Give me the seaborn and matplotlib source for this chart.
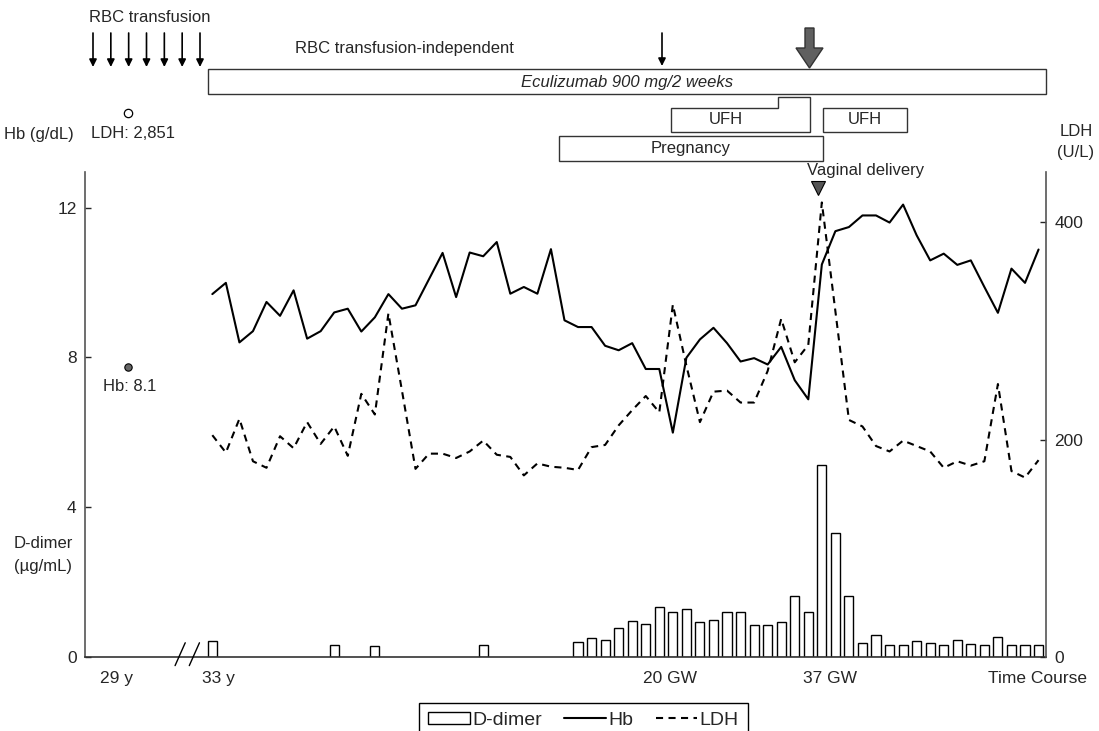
import matplotlib as mpl
mpl.use('Agg')
import matplotlib.pyplot as plt
from matplotlib.patches import Polygon, Patch
from matplotlib.lines import Line2D
import numpy as np
import pandas as pd
import seaborn as sns

sns.set_style('white')
plt.rcParams['font.family'] = ['Liberation Sans', 'DejaVu Sans']
plt.rcParams['font.size'] = 12

#%% data
visit = list(range(62))
hb = [9.69, 9.99, 8.40, 8.70, 9.48, 9.11, 9.79, 8.50, 8.70, 9.20,
      9.30, 8.69, 9.07, 9.69, 9.30, 9.39, 10.09, 10.79, 9.61, 10.80,
      10.70, 11.08, 9.70, 9.88, 9.70, 10.89, 8.99, 8.81, 8.81, 8.31,
      8.19, 8.38, 7.69, 7.69, 5.99, 7.99, 8.48, 8.79, 8.38, 7.89,
      7.98, 7.81, 8.28, 7.39, 6.88, 10.48, 11.37, 11.48, 11.79, 11.79,
      11.60, 12.08, 11.26, 10.59, 10.77, 10.47, 10.59, 9.88, 9.19, 10.37,
      9.99, 10.88]
ldh = [204, 188, 219, 180, 174, 203, 192, 216, 196, 212,
       185, 242, 223, 316, 245, 173, 187, 187, 183, 189,
       199, 186, 184, 167, 178, 175, 174, 172, 193, 195,
       213, 227, 240, 225, 324, 268, 216, 244, 245, 234,
       234, 263, 311, 271, 287, 418, 318, 218, 212, 194,
       189, 199, 194, 189, 174, 180, 176, 180, 251, 171,
       165, 181]
dd_visit = [0, 9, 12, 20] + list(range(27, 62))
ddimer = [0.42, 0.31, 0.29, 0.31,
          0.40, 0.52, 0.46, 0.77, 0.97, 0.89, 1.33, 1.20, 1.29, 0.93,
          1.00, 1.21, 1.19, 0.85, 0.85, 0.94, 1.63, 1.20, 5.13, 3.31,
          1.63, 0.38, 0.58, 0.31, 0.31, 0.42, 0.37, 0.31, 0.45, 0.34,
          0.31, 0.54, 0.31, 0.31, 0.31]

# first visit at 29 y
base_visit = -6.25
base_hb = 7.75
base_hb_label = 'Hb: 8.1'
base_ldh_label = 'LDH: 2,851'

xtick_pos = [-7.1, 0.47, 33.8, 45.6, 60.9]
xtick_lab = ['29 y', '33 y', '20 GW', '37 GW', 'Time Course']

df = pd.DataFrame({'visit': visit, 'Hb': hb, 'LDH': ldh})
dd = pd.DataFrame({'visit': dd_visit, 'D-dimer': ddimer})

#%% figure
W, H = 1099, 731
fx = lambda px: px / W
fy = lambda py: 1 - py / H
LDH_DASH = [3.4, 2.6]

fig = plt.figure(figsize=(W / 100, H / 100), dpi=100)
ax = fig.add_axes([fx(85), fy(657), fx(1046) - fx(85), fy(172) - fy(657)])

sns.barplot(data=dd, x='visit', y='D-dimer', native_scale=True, width=0.67,
            color='white', saturation=1, edgecolor='black', linewidth=1,
            ax=ax, zorder=2)
sns.lineplot(data=df, x='visit', y='Hb', color='black', lw=1.5, ax=ax, zorder=3)
sns.scatterplot(x=[base_visit], y=[base_hb], color='#666666', edgecolor='black',
                s=28, linewidth=0.8, ax=ax, zorder=4)
ax.text(base_visit + 0.15, base_hb - 0.53, base_hb_label, ha='center', va='center')

ax2 = ax.twinx()
sns.lineplot(data=df, x='visit', y='LDH', color='black', lw=1.5, ax=ax2)
ax2.get_lines()[0].set_dashes(LDH_DASH)

ax.set_xlim(-9.4, 61.55)
ax.set_ylim(0, 12.95)
ax2.set_ylim(0, 446)
ax.set_yticks([0, 4, 8, 12])
ax2.set_yticks([0, 200, 400])
ax.set_xticks(xtick_pos, xtick_lab)
ax.set_xlabel('')
ax.set_ylabel('')
ax2.set_ylabel('')
ax.tick_params(axis='x', length=0, pad=10, labelsize=12.5)
ax.tick_params(axis='y', direction='in', length=4, width=1, pad=6, labelsize=12.5, left=True)
ax2.tick_params(axis='y', direction='in', length=4, width=1, pad=6, labelsize=12.5, right=True)

for s in ['top', 'right']:
    ax.spines[s].set_visible(False)
for s in ['top', 'left', 'bottom']:
    ax2.spines[s].set_visible(False)
ax.spines['left'].set_color('#555555')
ax.spines['bottom'].set_color('#333333')
ax2.spines['right'].set_color('#555555')
for s in [ax.spines['left'], ax.spines['bottom'], ax2.spines['right']]:
    s.set_linewidth(1.2)

# axis break
for x0 in [-2.75, -1.7]:
    ax.plot([x0, x0 + 0.75], [-0.23, 0.38], color='black', lw=1, clip_on=False, zorder=5)

#%% annotations above the plot (pixel positions)
def ftext(x, y, s, **kw):
    fig.text(fx(x), fy(y), s, ha='center', va='center', **kw)

def farrow(x, y0, y1):
    ax.annotate('', xy=(fx(x), fy(y1)), xytext=(fx(x), fy(y0)), xycoords='figure fraction',
                arrowprops=dict(arrowstyle='-|>', lw=1.2, color='black', shrinkA=0, shrinkB=0,
                                mutation_scale=11), annotation_clip=False)

def fbox(pts):
    fig.add_artist(Polygon([(fx(x), fy(y)) for x, y in pts], closed=True, fill=False,
                           edgecolor='#333333', lw=1, transform=fig.transFigure))

ftext(150, 17, 'RBC transfusion')
for x in np.linspace(93, 200, 7):
    farrow(x, 33, 67)
ftext(404, 48, 'RBC transfusion-independent')
farrow(662, 33, 66)

# big gray arrow
big = [(805, 28), (814, 28), (814, 48), (823, 48), (809.5, 68), (796, 48), (805, 48)]
fig.add_artist(Polygon([(fx(x), fy(y)) for x, y in big], closed=True, facecolor='#606060',
                       edgecolor='#333333', lw=1, transform=fig.transFigure))

fbox([(208, 69), (1046, 69), (1046, 94), (208, 94)])
ftext(627, 82, 'Eculizumab 900 mg/2 weeks', style='italic')
fbox([(671, 108), (778, 108), (778, 97), (810, 97), (810, 132), (671, 132)])
ftext(726, 120, 'UFH')
fbox([(823, 108), (907, 108), (907, 132), (823, 132)])
ftext(865, 120, 'UFH')
fbox([(559, 136), (823, 136), (823, 161), (559, 161)])
ftext(691, 148, 'Pregnancy')
ftext(866, 170, 'Vaginal delivery')
fig.add_artist(Line2D([fx(817.7)], [fy(188)], marker='v', ms=10, mfc='#555555', mec='black',
                      mew=0.8, transform=fig.transFigure))

fig.add_artist(Line2D([fx(128)], [fy(113)], marker='o', ms=6, mfc='white', mec='black',
                      mew=0.9, transform=fig.transFigure))
ftext(39, 134, 'Hb (g/dL)')
ftext(133, 134, base_ldh_label)
ftext(1076, 131, 'LDH')
ftext(1076, 153, '(U/L)')
ftext(43, 543, 'D-dimer')
ftext(43, 566, '(µg/mL)')

# legend
handles = [Patch(facecolor='white', edgecolor='black', lw=1),
           Line2D([], [], color='black', lw=1.5),
           Line2D([], [], color='black', lw=1.5, dashes=LDH_DASH)]
leg = fig.legend(handles, ['D-dimer', 'Hb', 'LDH'], loc='upper left',
                 bbox_to_anchor=(fx(419), fy(703)), ncol=3, frameon=True, fancybox=False,
                 edgecolor='black', framealpha=1, handlelength=2.15, handleheight=0.6,
                 handletextpad=0.12, columnspacing=1.15, borderpad=0.45, borderaxespad=0,
                 fontsize=14)
leg.get_frame().set_linewidth(1)

fig.savefig('out.png', dpi=100)
